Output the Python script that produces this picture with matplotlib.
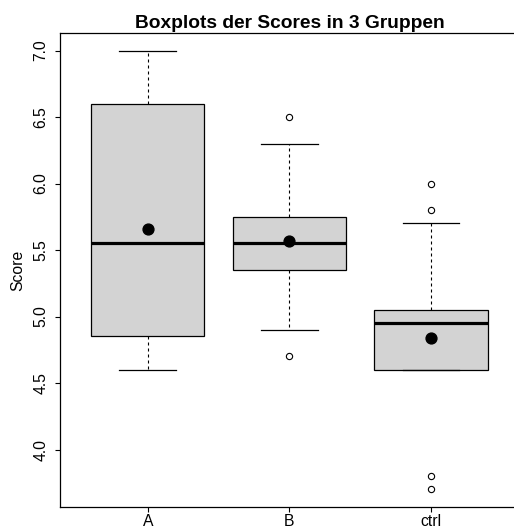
import matplotlib
matplotlib.use("Agg")
import matplotlib.pyplot as plt

plt.rcParams['font.family'] = ['Liberation Sans', 'DejaVu Sans']

groups = ["A", "B", "ctrl"]
whisker_low = [4.6, 4.9, 4.6]
q1 = [4.85, 5.35, 4.6]
medians = [5.55, 5.55, 4.95]
q3 = [6.6, 5.75, 5.05]
whisker_high = [7.0, 6.3, 5.7]
means = [5.66, 5.57, 4.84]
outliers = [[], [6.5, 4.7], [6.0, 5.8, 3.8, 3.7]]
yticks = [4.0, 4.5, 5.0, 5.5, 6.0, 6.5, 7.0]

stats = []
for i, g in enumerate(groups):
    stats.append(dict(label=g, whislo=whisker_low[i], q1=q1[i], med=medians[i],
                      q3=q3[i], whishi=whisker_high[i], mean=means[i],
                      fliers=outliers[i]))

W, H = 514, 529
fig = plt.figure(figsize=(W / 100, H / 100), dpi=100)
ax = fig.add_axes([60 / W, 22 / H, 458.7 / W, 474 / H])

ax.bxp(stats, positions=[1, 2, 3], widths=0.8, capwidths=0.4,
       patch_artist=True, showmeans=True,
       boxprops=dict(facecolor='#d3d3d3', edgecolor='black', linewidth=0.9),
       medianprops=dict(color='black', linewidth=2.3),
       whiskerprops=dict(color='black', linewidth=0.8, linestyle=(0, (2.7, 2.7))),
       capprops=dict(color='black', linewidth=0.9),
       meanprops=dict(marker='o', markerfacecolor='black', markeredgecolor='black',
                      markersize=7.8),
       flierprops=dict(marker='o', markerfacecolor='none', markeredgecolor='black',
                       markersize=4.5, markeredgewidth=0.8))

ax.set_xlim(0.38, 3.62)
ax.set_ylim(3.568, 7.132)
ax.set_yticks(yticks)
ax.set_yticklabels([f"{v:.1f}" for v in yticks], rotation=90, va='center')
ax.set_xticks([1, 2, 3])
ax.set_xticklabels(groups)
ax.tick_params(axis='both', direction='out', length=3.6, width=0.8,
               labelsize=11.3, colors='black')
ax.tick_params(axis='x', pad=1.3)
ax.tick_params(axis='y', pad=4.8)
for s in ax.spines.values():
    s.set_linewidth(0.9)
ax.spines['right'].set_visible(False)

ax.set_title("Boxplots der Scores in 3 Gruppen", fontsize=13.8,
             fontweight='bold', pad=3.6)
fig.text(18 / W, 1 - 270 / H, "Score", rotation=90, ha='center', va='center',
         fontsize=11.3)

fig.savefig("out.png", dpi=100)
